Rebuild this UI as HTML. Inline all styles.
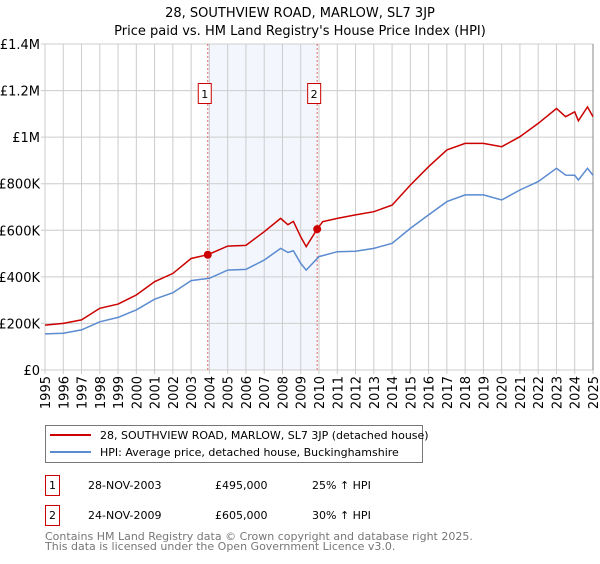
<!DOCTYPE html>
<html><head><meta charset="utf-8"><style>
body{margin:0;background:#fff;font-family:"DejaVu Sans","Liberation Sans",sans-serif;}
svg text{font-family:"DejaVu Sans","Liberation Sans",sans-serif;}
</style></head><body>
<svg width="600" height="560" id="c">
<text x="300" y="17" text-anchor="middle" font-size="13">28, SOUTHVIEW ROAD, MARLOW, SL7 3JP</text>
<text x="300" y="35" text-anchor="middle" font-size="13">Price paid vs. HM Land Registry's House Price Index (HPI)</text>
<g id="plot"></g>
<g>
<rect x="45.5" y="425.5" width="377" height="37" fill="#fff" stroke="#777"/>
<line x1="50" y1="435" x2="91" y2="435" stroke="#cc0000" stroke-width="2"/>
<text x="100" y="439" font-size="11">28, SOUTHVIEW ROAD, MARLOW, SL7 3JP (detached house)</text>
<line x1="50" y1="452" x2="91" y2="452" stroke="#5b8bd0" stroke-width="2"/>
<text x="100" y="456" font-size="11">HPI: Average price, detached house, Buckinghamshire</text>
</g>
<g font-size="11">
<rect x="45.5" y="475.5" width="14" height="20" fill="#fff" stroke="#cc0000"/>
<text x="52.5" y="489" text-anchor="middle">1</text>
<text x="88" y="489">28-NOV-2003</text><text x="215" y="489">£495,000</text><text x="312" y="489">25% ↑ HPI</text>
<rect x="45.5" y="505.5" width="14" height="20" fill="#fff" stroke="#cc0000"/>
<text x="52.5" y="519" text-anchor="middle">2</text>
<text x="88" y="519">24-NOV-2009</text><text x="215" y="519">£605,000</text><text x="312" y="519">30% ↑ HPI</text>
</g>
<text x="45" y="540" font-size="11" fill="#777">Contains HM Land Registry data © Crown copyright and database right 2025.</text>
<text x="45" y="550" font-size="11" fill="#777">This data is licensed under the Open Government Licence v3.0.</text>
</svg>
<script>
const hpiYears=[1995,1996,1997,1998,1999,2000,2001,2002,2003,2004,2005,2006,2007,2007.9,2008.3,2008.6,2009.0,2009.3,2010,2011,2012,2013,2014,2015,2016,2017,2018,2019,2020,2021,2022,2023,2023.5,2024,2024.2,2024.7,2025];
const hpiValues=[155,158,172,207,226,258,304,332,384,394,429,432,472,522,505,512,458,429,487,508,510,522,544,608,666,723,752,752,730,773,809,866,837,836,816,866,836];
const priceYears=[1995,1996,1997,1998,1999,2000,2001,2002,2003,2003.91,2005,2006,2007,2007.9,2008.3,2008.6,2009.0,2009.3,2009.9,2010.2,2011,2012,2013,2014,2015,2016,2017,2018,2019,2020,2021,2022,2023,2023.5,2024,2024.2,2024.7,2025];
const priceValues=[193,200,215,265,283,322,379,415,479,495,532,535,594,651,624,638,572,530,605,637,651,666,680,708,794,873,945,973,973,959,1002,1059,1123,1088,1109,1070,1130,1088];
const saleYears=[2003.91,2009.9];
const saleValues=[495,605];
const saleLabels=["1","2"];
const yTicks=[0,200,400,600,800,1000,1200,1400];
const yTickLabels=["£0","£200K","£400K","£600K","£800K","£1M","£1.2M","£1.4M"];
const xTicks=[1995,1996,1997,1998,1999,2000,2001,2002,2003,2004,2005,2006,2007,2008,2009,2010,2011,2012,2013,2014,2015,2016,2017,2018,2019,2020,2021,2022,2023,2024,2025];

const X0=45,X1=593,Y0=370,Y1=44;
const xs=y=>X0+(y-1995)/30*(X1-X0);
const ys=v=>Y0-v/1400*(Y0-Y1);
const NS="http://www.w3.org/2000/svg";
const g=document.getElementById('plot');
function mk(t,a){const e=document.createElementNS(NS,t);for(const k in a)e.setAttribute(k,a[k]);g.appendChild(e);return e;}
let sh=mk('rect',{x:xs(saleYears[0]),y:Y1,width:xs(saleYears[1])-xs(saleYears[0]),height:Y0-Y1,fill:'#eef3fc',opacity:0.7});


xTicks.forEach((t,i)=>{
 let l=mk('line',{x1:xs(t),x2:xs(t),y1:Y1,y2:Y0+4,stroke:'#ccc'});
 
 
 let tx=mk('text',{x:0,y:0,'font-size':13,'text-anchor':'end',transform:`translate(${xs(t)+5},${Y0+6}) rotate(-90)`});
 tx.textContent=t;
 
 
});
yTicks.forEach((t,i)=>{
 let l=mk('line',{x1:X0-4,x2:X1,y1:ys(t),y2:ys(t),stroke:'#ccc'});
 
 
 let tx=mk('text',{x:X0-5,y:ys(t)+5,'font-size':13,'text-anchor':'end'});
 tx.textContent=yTickLabels[i];
 
 
});
let ax=mk('line',{x1:X1,x2:X1,y1:Y1,y2:Y0,stroke:'#888'});


saleYears.forEach((s,i)=>{
 let l=mk('line',{x1:xs(s),x2:xs(s),y1:Y1,y2:Y0,stroke:'#e06666','stroke-dasharray':'2,2'});
 
 
 let r=mk('rect',{x:xs(s)-9.5,y:83.5,width:13,height:20,fill:'#fff',stroke:'#cc0000'});
 
 
 let t=mk('text',{x:xs(s)-3,y:98,'font-size':11,'text-anchor':'middle'});
 t.textContent=saleLabels[i];
 
 
});
const pts=(xa,va)=>xa.map((x,i)=>xs(x).toFixed(1)+','+ys(va[i]).toFixed(1)).join(' ');
let hl=mk('polyline',{points:pts(hpiYears,hpiValues),fill:'none',stroke:'#5b8bd0','stroke-width':1.5});


let pl=mk('polyline',{points:pts(priceYears,priceValues),fill:'none',stroke:'#cc0000','stroke-width':1.5});


saleYears.forEach((s,i)=>{
 let c=mk('circle',{cx:xs(s),cy:ys(saleValues[i]),r:4,fill:'#cc0000'});
 
 
});
</script>
</body></html>
